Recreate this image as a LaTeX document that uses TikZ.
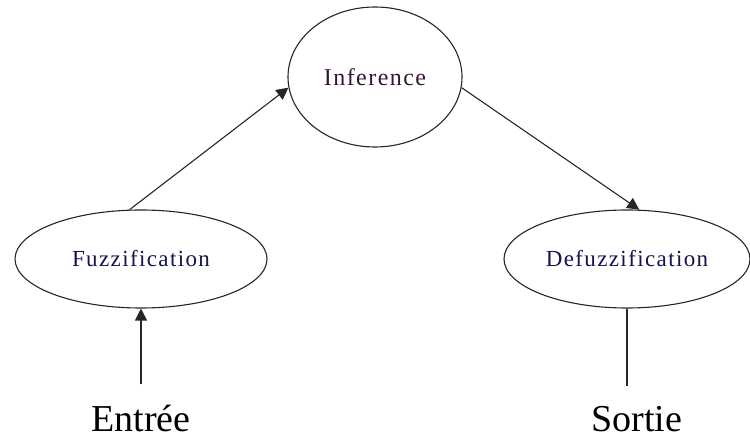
\documentclass[tikz,border=0pt]{standalone}
\usepackage{fontspec}
\setmainfont{Liberation Serif}
\newfontfamily\stagefont[LetterSpace=6]{Liberation Serif}
\usetikzlibrary{arrows.meta,shapes.geometric}

\definecolor{infcol}{RGB}{55,20,55}
\definecolor{fuzcol}{RGB}{20,20,80}

\begin{document}
\begin{tikzpicture}[x=1pt,y=1pt,
    stage/.style={ellipse,draw=black!85,line width=1.1pt,inner sep=0pt,font=\stagefont\fontsize{23}{26}\selectfont},
    io/.style={font=\fontsize{38}{44}\selectfont,anchor=base,inner sep=0pt},
    flow/.style={draw=black!85,line width=1.1pt},
    arr/.style={flow,-{Triangle[length=12pt,width=12pt]}}]
    \useasboundingbox (0,0) rectangle (750,439);

    % Top node
    \node[stage,minimum width=174pt,minimum height=140pt,text=infcol,font=\stagefont\fontsize{24}{28}\selectfont] (inf) at (375,362) {Inference};

    % Second stage nodes
    \node[stage,minimum width=252pt,minimum height=98pt,text=fuzcol] (fuzz) at (141,180) {Fuzzification};
    \node[stage,minimum width=246pt,minimum height=98pt,text=fuzcol] (defuzz) at (627,180) {Defuzzification};

    % Input and output
    \node[io] (entree) at (141,7) {Entrée};
    \node[io] (sortie) at (637,7) {Sortie};

    \draw[arr] (fuzz.103) -- (inf.187);
    \draw[arr] (inf.353) -- (defuzz.76);
    \draw[arr,shorten <=21pt] (fuzz.south |- entree.north) -- (fuzz.south);
    \draw[flow,shorten >=21pt] (defuzz.south) -- (defuzz.south |- sortie.north);
\end{tikzpicture}
\end{document}
